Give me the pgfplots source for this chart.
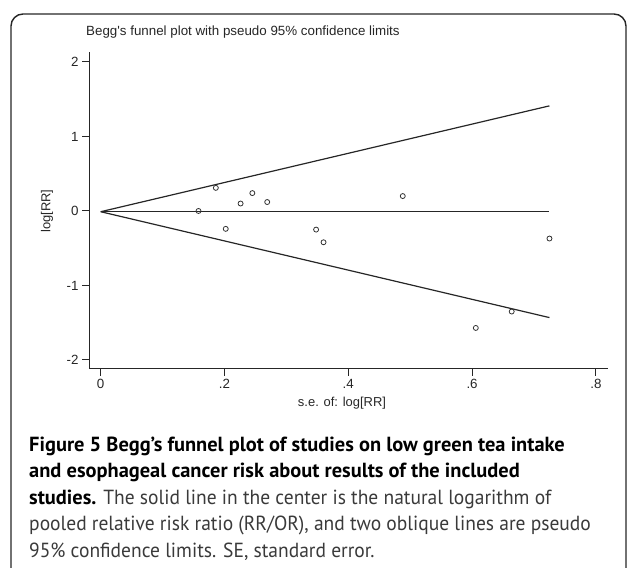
\documentclass[border=0pt]{standalone}
\usepackage{fontspec}
\usepackage{pgfplots}
\pgfplotsset{compat=1.18}
\setmainfont{Liberation Sans}
\newfontfamily\statafont{Liberation Sans}
\newfontfamily\capfont[FakeStretch=0.955]{PT Sans}
\newfontfamily\capbold{PT Sans}
\definecolor{capgray}{HTML}{3A3A3A}
\begin{document}
\begin{tikzpicture}[x=1bp,y=1bp]
\useasboundingbox (0,0) rectangle (630,568);
\begin{scope}
\clip (0,0) rectangle (630,568);
\draw[line width=1.4bp, black!85, rounded corners=12bp] (11,-40) rectangle (626,554);
\end{scope}
\node[anchor=west, inner sep=0pt, font=\statafont\fontsize{13.4}{14}\selectfont, text=black!85] at (86,536) {Begg's funnel plot with pseudo 95\% confidence limits};
\begin{axis}[
  at={(89bp,199bp)}, anchor=south west, scale only axis,
  width=519bp, height=317bp,
  xmin=-0.0189, xmax=0.8196, ymin=-2.121, ymax=2.134,
  axis lines=left, axis line style={-, line width=1bp, black!85},
  xtick={0,0.2,0.4,0.6,0.8}, xticklabels={0,.2,.4,.6,.8},
  ytick={-2,-1,0,1,2}, yticklabels={-2,-1,0,1,2},
  tick align=outside, major tick length=7bp,
  tick style={line width=1bp, black!85},
  /pgf/number format/assume math mode=true,
  tick label style={font=\statafont\fontsize{13.4}{14}\selectfont, text=black!85},
  clip=false,
]
\addplot[no marks, line width=1.2bp, black!85] coordinates {(0,-0.01) (0.725,-0.01)};
\addplot[no marks, line width=1.2bp, black!85] coordinates {(0,-0.01) (0.725,1.411)};
\addplot[no marks, line width=1.2bp, black!85] coordinates {(0,-0.01) (0.725,-1.431)};
\addplot[only marks, mark=o, mark size=2.5bp, black!80, mark options={line width=0.8bp}] coordinates {
(0.158,0.00) (0.186,0.31) (0.202,-0.24) (0.226,0.10) (0.245,0.24) (0.269,0.12)
(0.348,-0.25) (0.360,-0.42) (0.488,0.20) (0.725,-0.37) (0.606,-1.57) (0.664,-1.35)
};
\end{axis}
\node[rotate=90, font=\statafont\fontsize{13}{14}\selectfont, text=black!85] at (47,357) {log[RR]};
\node[font=\statafont\fontsize{13}{14}\selectfont, text=black!85] at (342,165) {s.e. of: log[RR]};
\begin{scope}[every node/.style={anchor=west, inner sep=0pt, font=\capfont\fontsize{20.5}{22}\selectfont, text=capgray}]
\node at (29,122) {{\capbold\bfseries\color{black}Figure 5 Begg’s funnel plot of studies on low green tea intake}};
\node at (29,95.5) {{\capbold\bfseries\color{black}and esophageal cancer risk about results of the included}};
\node at (29,69) {{\capbold\bfseries\color{black}studies.} The solid line in the center is the natural logarithm of};
\node at (29,42.5) {pooled relative risk ratio (RR/OR), and two oblique lines are pseudo};
\node at (29,16) {95\% confidence limits. SE, standard error.};
\end{scope}
\end{tikzpicture}
\end{document}
